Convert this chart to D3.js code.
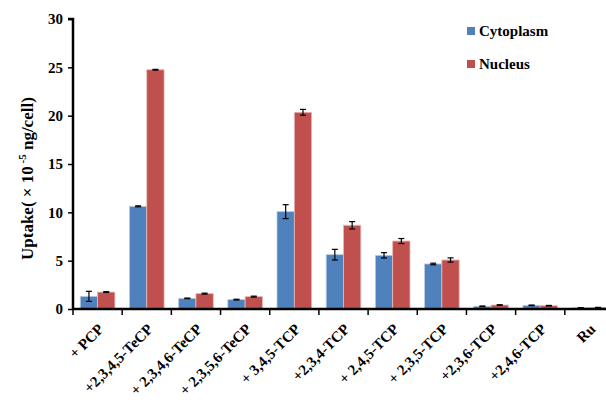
<!DOCTYPE html>
<html><head><meta charset="utf-8">
<script src="https://cdn.jsdelivr.net/npm/d3@7"></script>
<style>body{margin:0;background:#fff;} svg{display:block;}</style>
</head><body>
<svg id="c" width="606" height="404"></svg>
<script>
const categories = ["+ PCP","+2,3,4,5-TeCP","+ 2,3,4,6-TeCP","+ 2,3,5,6-TeCP","+ 3,4,5-TCP","+2,3,4-TCP","+ 2,4,5-TCP","+ 2,3,5-TCP","+2,3,6-TCP","+2,4,6-TCP","Ru"];
const seriesNames = ["Cytoplasm","Nucleus"];
const cytoplasm = [1.31,10.62,1.10,0.97,10.07,5.62,5.55,4.66,0.28,0.38,0.12];
const cytoErr   = [0.52,0.05,0.03,0.04,0.72,0.55,0.28,0.08,0.03,0.03,0.02];
const nucleus   = [1.75,24.75,1.59,1.28,20.35,8.66,7.03,5.07,0.41,0.34,0.15];
const nucErr    = [0.04,0.04,0.05,0.05,0.30,0.38,0.26,0.22,0.03,0.03,0.02];
const yTicks = [0,5,10,15,20,25,30];
const colors = ["#4F81BD","#C0504D"];

const svg = d3.select("#c");
const font = "'Liberation Serif','Times New Roman',serif";
const x0 = 73, x1 = 614, yTop = 19, yBot = 309;
const x = d3.scaleBand().domain(categories).range([x0, x1]).paddingInner(0).paddingOuter(0);
const y = d3.scaleLinear().domain([0,30]).range([yBot, yTop]);
const xs = d3.scaleBand().domain(seriesNames).range([0, x.bandwidth()]).paddingInner(0).paddingOuter(0.42);

const data = categories.map((c,i)=>({c, vals:[{s:"Cytoplasm",v:cytoplasm[i],e:cytoErr[i]},{s:"Nucleus",v:nucleus[i],e:nucErr[i]}]}));

const g = svg.append("g");
const grp = g.selectAll("g.grp").data(data).join("g").attr("transform",d=>`translate(${x(d.c)},0)`);
grp.selectAll("rect").data(d=>d.vals).join("rect")
  .attr("x",d=>xs(d.s)).attr("width",xs.bandwidth())
  .attr("y",d=>y(d.v)).attr("height",d=>yBot-y(d.v))
  .attr("fill",(d,i)=>colors[i]).attr("stroke",(d,i)=>i?"#e6b9b8":"#b9cde5").attr("stroke-width",0.8);
// error bars
const eb = grp.selectAll("g.eb").data(d=>d.vals).join("g").attr("class","eb")
  .attr("transform",d=>`translate(${xs(d.s)+xs.bandwidth()/2},0)`);
eb.append("line").attr("y1",d=>y(d.v+d.e)).attr("y2",d=>y(d.v-d.e)).attr("stroke","#000").attr("stroke-width",1.2);
eb.append("line").attr("x1",-3).attr("x2",3).attr("y1",d=>y(d.v+d.e)).attr("y2",d=>y(d.v+d.e)).attr("stroke","#000").attr("stroke-width",1.2);
eb.append("line").attr("x1",-3).attr("x2",3).attr("y1",d=>y(d.v-d.e)).attr("y2",d=>y(d.v-d.e)).attr("stroke","#000").attr("stroke-width",1.2);

// y axis
const ya = svg.append("g").attr("transform",`translate(${x0},0)`)
  .call(d3.axisLeft(y).tickValues(yTicks).tickSize(5).tickPadding(5));
ya.select(".domain").attr("stroke","#000").attr("stroke-width",2.5).attr("d",`M-5,${yTop}H0V${yBot}`);
ya.selectAll(".tick line").attr("stroke-width",1.5);
ya.selectAll("text").attr("font-family",font).attr("font-weight","bold").attr("font-size",15).attr("fill","#000");

// x axis
const xa = svg.append("g").attr("transform",`translate(0,${yBot})`)
  .call(d3.axisBottom(x).tickSize(0).tickFormat(""));
xa.select(".domain").attr("stroke","#000").attr("stroke-width",2.5).attr("d",`M${x0},0H606`);
xa.selectAll(".tick").remove();
const bounds = categories.map(c=>x(c));
xa.selectAll("line.xt").data(bounds).join("line").attr("class","xt")
  .attr("x1",d=>d).attr("x2",d=>d).attr("y1",0).attr("y2",6).attr("stroke","#000").attr("stroke-width",1.5);
xa.selectAll("text.xl").data(categories).join("text").attr("class","xl")
  .attr("transform",c=>`translate(${x(c)+x.bandwidth()/2+7},${21}) rotate(-45)`)
  .attr("text-anchor","end").attr("font-family",font).attr("font-weight","bold").attr("font-size",15)
  .attr("fill","#000").style("white-space","pre").text(c=>c);

// y title
svg.append("text").attr("transform",`translate(33,260) rotate(-90)`)
  .attr("text-anchor","start").attr("font-family",font).attr("font-weight","bold").attr("font-size",17)
  .html('Uptake( \u00D7 10<tspan font-size="11" dy="-7"> -5</tspan><tspan dy="7"> ng/cell)</tspan>');

// legend
const lg = svg.append("g").selectAll("g").data(seriesNames).join("g")
  .attr("transform",(d,i)=>`translate(467,${27+i*33})`);
lg.append("rect").attr("width",8).attr("height",8).attr("fill",(d,i)=>colors[i]);
lg.append("text").attr("x",12).attr("y",8.5).attr("font-family",font).attr("font-weight","bold").attr("font-size",15).text(d=>d);
</script>
</body></html>
